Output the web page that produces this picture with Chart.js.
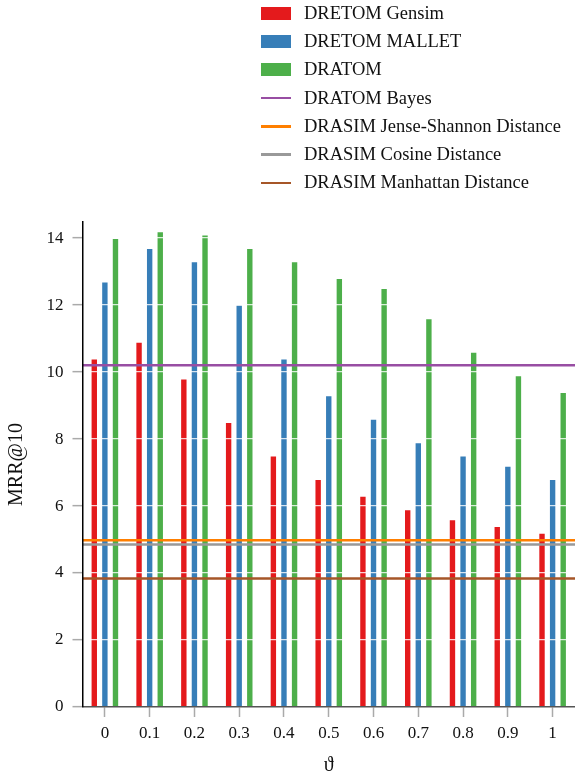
<!DOCTYPE html>
<html>
<head>
<meta charset="utf-8">
<script src="https://cdn.jsdelivr.net/npm/chart.js@4"></script>
<style>
  body { margin: 0; background: #fff; overflow: hidden; }
  #wrap { position: relative; width: 575px; height: 778px; }
  #legend { position: absolute; left: 261px; top: -1px; font-family: "Liberation Serif", serif; font-size: 18.5px; color: #111; }
  .row { display: flex; align-items: center; height: 28.3px; }
  .sw { width: 30px; margin-right: 13px; }
</style>
</head>
<body>
<div id="wrap">
  <canvas id="myChart"></canvas>
  <div id="legend"></div>
</div>
<script>
// x categories (theta) and y ticks
const thetas = [0, 0.1, 0.2, 0.3, 0.4, 0.5, 0.6, 0.7, 0.8, 0.9, 1];
const thetaLabels = ["0", "0.1", "0.2", "0.3", "0.4", "0.5", "0.6", "0.7", "0.8", "0.9", "1"];
const yTicks = [0, 2, 4, 6, 8, 10, 12, 14];
const xRange = [-0.05, 1.05];

// bar series, MRR@10
const barNames = ["DRETOM Gensim", "DRETOM MALLET", "DRATOM"];
const gensim = [10.4, 10.9, 9.8, 8.5, 7.5, 6.8, 6.3, 5.9, 5.6, 5.4, 5.2];
const mallet = [12.7, 13.7, 13.3, 12.0, 10.4, 9.3, 8.6, 7.9, 7.5, 7.2, 6.8];
const dratom = [14.0, 14.2, 14.1, 13.7, 13.3, 12.8, 12.5, 11.6, 10.6, 9.9, 9.4];
const barColors = ["#e41a1c", "#377eb8", "#4daf4a"];

// flat baselines
const baseNames = ["DRATOM Bayes", "DRASIM Jense-Shannon Distance", "DRASIM Cosine Distance", "DRASIM Manhattan Distance"];
const baseValues = [10.2, 4.98, 4.85, 3.84];
const baseColors = ["#984ea3", "#ff7f00", "#999999", "#a65628"];

const serif = "'Liberation Serif', 'Times New Roman', serif";

// lines first so they are drawn on top of the bars
const datasets = [];
baseNames.forEach((name, i) => {
  datasets.push({
    type: "line",
    label: name,
    data: xRange.map((x) => ({ x: x, y: baseValues[i] })),
    borderColor: baseColors[i],
    backgroundColor: baseColors[i],
    borderWidth: 2.5,
    pointRadius: 0,
  });
});
[gensim, mallet, dratom].forEach((vals, i) => {
  datasets.push({
    type: "bar",
    label: barNames[i],
    data: vals.map((v, j) => ({ x: thetas[j], y: v })),
    backgroundColor: barColors[i],
    borderColor: "rgba(255,255,255,0.35)",
    borderWidth: 0.8,
    categoryPercentage: 0.71,
    barPercentage: 0.66,
  });
});

// config
const config = {
  type: "bar",
  data: { datasets },
  options: {
    responsive: true,
    maintainAspectRatio: false,
    animation: false,
    layout: { padding: { top: 222, right: 0, bottom: 0, left: 0 } },
    plugins: { legend: { display: false }, tooltip: { enabled: false } },
    scales: {
      x: {
        type: "linear",
        min: xRange[0],
        max: xRange[1],
        offset: false,
        afterFit: (s) => { s.height = 71; },
        afterBuildTicks: (s) => { s.ticks = thetas.map((v) => ({ value: v })); },
        grid: { offset: false, drawOnChartArea: false, tickLength: 10, tickColor: "#aaaaaa", tickWidth: 1.5, z: 1 },
        border: { color: "#555555", width: 1.5, z: 2 },
        ticks: {
          color: "#111",
          padding: 6,
          font: { family: serif, size: 17 },
          callback: (v) => thetaLabels[thetas.findIndex((t) => Math.abs(t - v) < 1e-6)],
        },
        title: { display: true, text: "ϑ", color: "#111", padding: { top: 0, bottom: 0 }, font: { family: serif, size: 20 } },
      },
      y: {
        min: 0,
        max: 14.48,
        afterFit: (s) => { s.width = 82.5; },
        afterBuildTicks: (s) => { s.ticks = yTicks.map((v) => ({ value: v })); },
        grid: {
          color: (c) => (c.tick && c.tick.value === 0 ? "rgba(0,0,0,0)" : "rgba(255,255,255,0.8)"),
          lineWidth: 1.3,
          tickLength: 10,
          tickColor: "#aaaaaa",
          tickWidth: 1.5,
          z: 1,
        },
        border: { color: "#000", width: 1.5, z: 2 },
        ticks: { color: "#111", padding: 9, font: { family: serif, size: 17 } },
        title: { display: true, text: "MRR@10", color: "#111", padding: { top: 5, bottom: 0 }, font: { family: serif, size: 20 } },
      },
    },
  },
};

// init renderer
const myChart = new Chart(document.getElementById("myChart"), config);

// legend list: bars then baselines
const legend = document.getElementById("legend");
const legendItems = barNames.map((n, i) => ({ name: n, color: barColors[i], bar: true }))
  .concat(baseNames.map((n, i) => ({ name: n, color: baseColors[i], bar: false })));
legendItems.forEach((it) => {
  const row = document.createElement("div");
  row.className = "row";
  const sw = document.createElement("div");
  sw.className = "sw";
  sw.style.background = it.color;
  sw.style.height = it.bar ? "13px" : "2.5px";
  const txt = document.createElement("span");
  txt.textContent = it.name;
  row.appendChild(sw);
  row.appendChild(txt);
  legend.appendChild(row);
});
</script>
</body>
</html>
